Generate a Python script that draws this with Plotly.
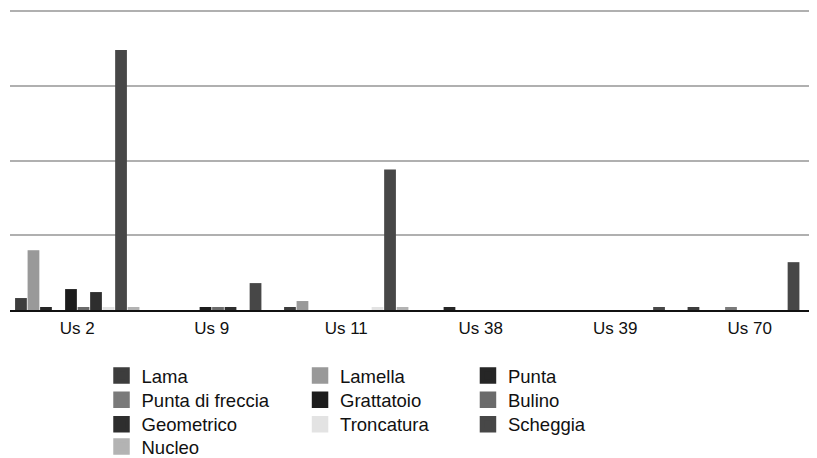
import plotly.graph_objects as go

# Stratigraphic units (x categories)
units = ["Us 2", "Us 9", "Us 11", "Us 38", "Us 39", "Us 70"]

# Counts per tool type, one value per unit
lama = [4, 0, 1, 0, 0, 1]
lamella = [20, 0, 3, 0, 0, 0]
punta = [1, 0, 0, 1, 0, 0]
punta_di_freccia = [0, 0, 0, 0, 0, 1]
grattatoio = [7, 1, 0, 0, 0, 0]
bulino = [1, 1, 0, 0, 0, 0]
geometrico = [6, 1, 0, 0, 0, 0]
troncatura = [1, 0, 1, 0, 0, 0]
scheggia = [87, 9, 47, 0, 1, 16]
nucleo = [1, 0, 1, 0, 0, 0]

names = ["Lama", "Lamella", "Punta", "Punta di freccia", "Grattatoio",
         "Bulino", "Geometrico", "Troncatura", "Scheggia", "Nucleo"]
values = [lama, lamella, punta, punta_di_freccia, grattatoio,
          bulino, geometrico, troncatura, scheggia, nucleo]
colors = ["#3d3d3d", "#999999", "#262626", "#7a7a7a", "#1c1c1c",
          "#6b6b6b", "#2e2e2e", "#e3e3e3", "#474747", "#b3b3b3"]

# legend grid: 3 columns, filled row by row (each entry gets its own legend)
col_x = [0.1134, 0.3594, 0.5675]
row_y = [-0.219, -0.300, -0.381, -0.455]

fig = go.Figure()
legends = {}
for i, (name, vals, color) in enumerate(zip(names, values, colors)):
    key = "legend" if i == 0 else f"legend{i + 1}"
    fig.add_trace(go.Bar(
        x=units, y=vals, name=name,
        marker=dict(color=color, line=dict(width=0)),
        showlegend=False,
    ))
    # blank twin on a hidden axis, only to get a bigger legend swatch
    fig.add_trace(go.Bar(
        x=[units[0]], y=[None], name=name,
        marker=dict(color=color, line=dict(color=color, width=4.5)),
        xaxis="x2", yaxis="y2",
        legend=key, showlegend=True, hoverinfo="skip",
    ))
    legends[key] = dict(
        visible=True,
        orientation="v",
        x=col_x[i % 3], xanchor="left",
        y=row_y[i // 3], yanchor="middle",
        font=dict(size=18.5, color="#111111"),
        bgcolor="rgba(0,0,0,0)",
        itemwidth=30,
    )

# the page body adds an 8px offset, so the figure is 8px smaller than the window
fig.update_layout(
    width=809, height=450,
    margin=dict(l=2, r=0, t=1, b=148, autoexpand=False),
    showlegend=True,
    paper_bgcolor="white",
    plot_bgcolor="white",
    barmode="group",
    bargap=0.07,
    bargroupgap=0.06,
    font=dict(family="Liberation Sans, Arial, sans-serif", color="#111111"),
    xaxis=dict(
        showgrid=False,
        showline=True, linecolor="#111111", linewidth=2,
        ticks="",
        ticklabelstandoff=2,
        tickfont=dict(size=17, color="#111111"),
    ),
    yaxis=dict(
        range=[0, 100.7],
        dtick=25,
        showticklabels=False,
        showgrid=True, gridcolor="#b0b0b0", gridwidth=2,
        zeroline=False,
    ),
    xaxis2=dict(visible=False, overlaying="x"),
    yaxis2=dict(visible=False, overlaying="y", range=[0, 1]),
    **legends,
)

fig.write_html("out.html")
